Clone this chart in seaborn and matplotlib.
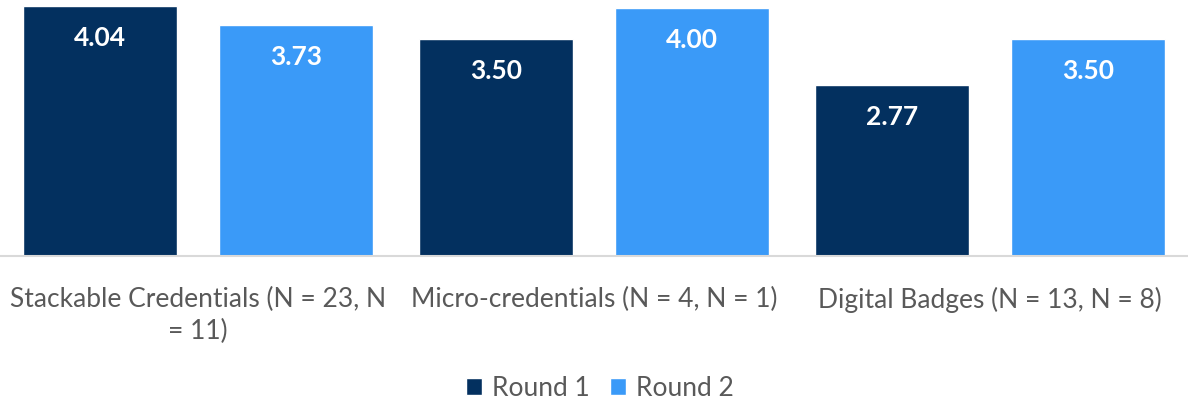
import matplotlib
matplotlib.use("Agg")
import matplotlib.pyplot as plt
import seaborn as sns
import pandas as pd

categories = ["Stackable Credentials (N = 23, N\n= 11)",
              "Micro-credentials (N = 4, N = 1)",
              "Digital Badges (N = 13, N = 8)"]
series_names = ["Round 1", "Round 2"]
round1 = [4.04, 3.50, 2.77]
round2 = [3.73, 4.00, 3.50]
colors = ["#03305F", "#3A9AF8"]

df = pd.DataFrame({
    "category": categories * 2,
    "series": [series_names[0]] * 3 + [series_names[1]] * 3,
    "value": round1 + round2,
})

sns.set_theme(style="white")
plt.rcParams["font.family"] = ["Lato", "DejaVu Sans"]

fig = plt.figure(figsize=(11.88, 4.03), dpi=100)
ax = fig.add_axes([0.0, 1 - 256 / 403, 1.0, 256 / 403])

sns.barplot(data=df, x="category", y="value", hue="series", order=categories,
            hue_order=series_names, palette=colors, width=0.99, gap=0.21,
            saturation=1, ax=ax, legend=True)

ax.set_ylim(0, 4.135)
ax.set_xlim(-0.5, 2.5)
ax.set_xlabel("")
ax.set_ylabel("")
ax.set_yticks([])
for s in ["top", "left", "right"]:
    ax.spines[s].set_visible(False)
ax.spines["bottom"].set_color("#D9D9D9")
ax.spines["bottom"].set_linewidth(1.5)
ax.tick_params(axis="x", length=0, pad=22, labelsize=19, labelcolor="#595959")
for t in ax.get_xticklabels():
    t.set_linespacing(1.35)

for cont in ax.containers:
    for p in cont:
        h = p.get_height()
        ax.annotate(f"{h:.2f}", (p.get_x() + p.get_width() / 2, h),
                    xytext=(0, -32), textcoords="offset pixels",
                    ha="center", va="center", color="white",
                    fontsize=19, fontweight="bold")

handles, labels = ax.get_legend_handles_labels()
ax.legend_.remove()
fig.legend(handles, labels, loc="center", bbox_to_anchor=(0.505, 1 - 388 / 403),
           ncol=2, frameon=False, fontsize=19, labelcolor="#595959",
           handlelength=0.6, handleheight=0.6, handletextpad=0.4,
           columnspacing=0.75)

fig.savefig("out.png", dpi=100)
